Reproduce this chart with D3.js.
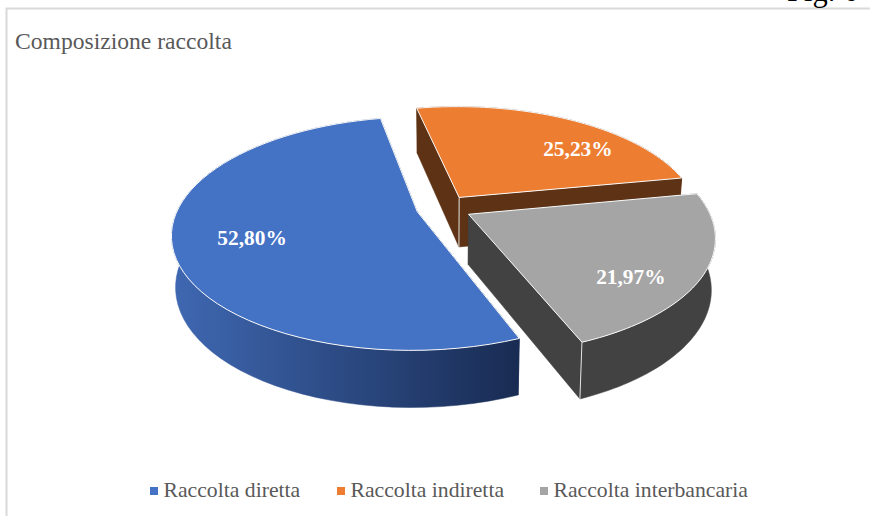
<!DOCTYPE html>
<html>
<head>
<meta charset="utf-8">
<script src="https://cdn.jsdelivr.net/npm/d3@7"></script>
<style>
  html, body { margin: 0; padding: 0; background: #fff; }
  text { font-family: "Liberation Serif", serif; }
</style>
</head>
<body>
<div id="chart"></div>
<script>
const categories = ['Raccolta diretta', 'Raccolta indiretta', 'Raccolta interbancaria'];
const shares = [52.80, 25.23, 21.97];
const shareLabels = ['52,80%', '25,23%', '21,97%'];
const topColors = ['#4472c4', '#ed7d31', '#a5a5a5'];
const wallColors = ['url(#blueWall)', '#5e3214', '#424242'];

const width = 870, height = 516;
const firstAngle = 158.3 * Math.PI / 180;
const explode = 0.116;

// where the labels sit inside each slice: turn from mid angle (degrees), radius
const labelTurn = [-2, 15, 11];
const labelRadius = [0.69, 0.74, 0.78];

// perspective of the pie plane
const cx = 444, cy = 208, scaleX = 239, scaleY = 111.3, tilt = -0.186;

function project(u, v) {
    const w = 1 + tilt * v;
    return [cx + scaleX * u / w, cy + scaleY * v / w, w];
}

function dropped(p) {
    const h = 20 + 30 / p[2];
    return [p[0] - (p[0] - 445) * 0.015, p[1] + h];
}

const svg = d3.select('#chart')
    .append('svg')
    .attr('width', width)
    .attr('height', height)
    .style('display', 'block');

const grad = svg.append('defs').append('linearGradient')
    .attr('id', 'blueWall')
    .attr('gradientUnits', 'userSpaceOnUse')
    .attr('x1', 172).attr('x2', 521).attr('y1', 0).attr('y2', 0);
grad.append('stop').attr('offset', '0%').attr('stop-color', '#3f68b2');
grad.append('stop').attr('offset', '100%').attr('stop-color', '#182b52');

// frame of the chart, runs off the page on the right and bottom
svg.append('path')
    .attr('d', `M6.5,${height}V8.5H${width}`)
    .attr('fill', 'none')
    .attr('stroke', '#d9d9d9')
    .attr('stroke-width', 2);

svg.append('text')
    .attr('x', 787)
    .attr('y', 1)
    .attr('font-size', 30.5)
    .attr('fill', '#000')
    .text('Fig. 6');

svg.append('text')
    .attr('x', 15)
    .attr('y', 49)
    .attr('font-size', 23.6)
    .attr('fill', '#595959')
    .text('Composizione raccolta');

const pie = d3.pie()
    .sort(null)
    .value(d => d)
    .startAngle(firstAngle)
    .endAngle(firstAngle + 2 * Math.PI);

const slices = pie(shares).map((d, i) => {
    const mid = (d.startAngle + d.endAngle) / 2;
    const ou = Math.sin(mid) * explode, ov = -Math.cos(mid) * explode;
    const at = (angle, r) => project(ou + r * Math.sin(angle), ov - r * Math.cos(angle));
    const arc = d3.range(0, 61).map(k => at(d.startAngle + (d.endAngle - d.startAngle) * k / 60, 1));
    const apex = at(0, 0);
    const labelAngle = mid + labelTurn[i] * Math.PI / 180;
    return { i, arc, apex, label: at(labelAngle, labelRadius[i]) };
});

const line = d3.line();
const drawOrder = [1, 0, 2];

const g = svg.selectAll('g.slice')
    .data(drawOrder.map(i => slices[i]))
    .join('g')
    .attr('class', 'slice');

// radial walls go under the outer wall
[s => s.arc[0], s => s.arc[s.arc.length - 1]].forEach(end => {
    g.append('path')
        .attr('d', d => line([d.apex, end(d), dropped(end(d)), dropped(d.apex)]) + 'Z')
        .attr('fill', d => wallColors[d.i])
        .attr('stroke', d => wallColors[d.i])
        .attr('stroke-width', 0.5);
});

// outer wall
g.append('path')
    .attr('d', d => line(d.arc.concat(d.arc.map(dropped).reverse())) + 'Z')
    .attr('fill', d => wallColors[d.i])
    .attr('stroke', d => wallColors[d.i])
    .attr('stroke-width', 0.5);

// pale vertical seam on the corners that face the viewer
const seam = [null, s => s.apex, s => s.arc[s.arc.length - 1]];
g.filter(d => seam[d.i])
    .append('path')
    .attr('d', d => { const p = seam[d.i](d); return line([p, dropped(p)]); })
    .attr('stroke', '#e4e4e4')
    .attr('stroke-width', 1);

// top face
g.append('path')
    .attr('d', d => line([d.apex].concat(d.arc)) + 'Z')
    .attr('fill', d => topColors[d.i])
    .attr('stroke', '#fafafa')
    .attr('stroke-width', 1)
    .attr('stroke-linejoin', 'round');

svg.selectAll('text.value')
    .data(slices)
    .join('text')
    .attr('class', 'value')
    .attr('x', d => d.label[0])
    .attr('y', d => d.label[1] + 7)
    .attr('text-anchor', 'middle')
    .attr('font-size', 21.4)
    .attr('font-weight', 'bold')
    .attr('fill', '#fff')
    .text(d => shareLabels[d.i]);

const legendX = [150, 337, 540];
const legend = svg.selectAll('g.legend')
    .data(categories)
    .join('g')
    .attr('class', 'legend')
    .attr('transform', (d, i) => `translate(${legendX[i]},0)`);

legend.append('rect')
    .attr('y', 487)
    .attr('width', 8)
    .attr('height', 8)
    .attr('fill', (d, i) => topColors[i]);

legend.append('text')
    .attr('x', 13.5)
    .attr('y', 497)
    .attr('font-size', 21.7)
    .attr('fill', '#595959')
    .text(d => d);
</script>
</body>
</html>
